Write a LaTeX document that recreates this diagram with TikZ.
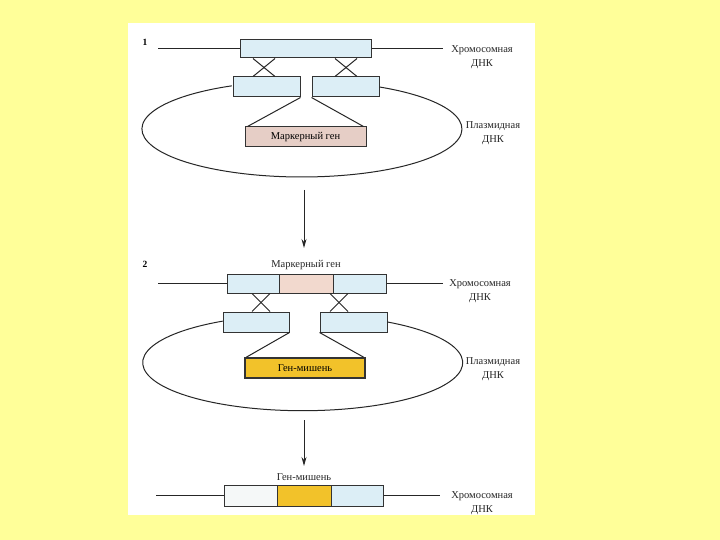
\documentclass[tikz,border=0pt]{standalone}
\usepackage{fontspec}
\setmainfont{Liberation Serif}
\usepackage{tikz}
\usetikzlibrary{arrows.meta}
\definecolor{bgyellow}{HTML}{FFFF99}
\definecolor{dnablue}{HTML}{DCEEF6}
\definecolor{markerpink}{HTML}{E6CEC6}
\definecolor{markerpale}{HTML}{F2D9CE}
\definecolor{targetgold}{HTML}{F2C22A}
\definecolor{palebox}{HTML}{F5F8F8}

\begin{document}
\begin{tikzpicture}[x=1pt,y=-1pt,
    dnabox/.style={draw=black!80, fill=dnablue, line width=1pt, rectangle, inner sep=0pt},
    genebox/.style={dnabox, fill=markerpink, font=\fontsize{10.5}{11}\selectfont},
    targetbox/.style={dnabox, fill=targetgold, line width=1.5pt, font=\fontsize{10.5}{11}\selectfont},
    lbl/.style={align=center, text=black!85, font=\fontsize{10.5}{14}\selectfont},
    num/.style={font=\fontsize{9.5}{10}\selectfont\bfseries},
    strand/.style={black!85, line width=1pt},
    flow/.style={strand, -{Stealth[length=9pt, width=5pt]}}]
               \useasboundingbox (0,0) rectangle (720,540);
               \fill[bgyellow] (0,0) rectangle (720,540);
               \fill[white] (128,23) rectangle (535,515);
               % panel 1
               \node[num] (n1) at (145,42) {1};
               \coordinate (chA1) at (158,49);
               \coordinate (chA2) at (443,49);
               \node[dnabox, minimum width=131pt, minimum height=18pt] (chA) at (305.5,49) {};
               \draw[strand] (chA1) -- (chA.west);
               \draw[strand] (chA.east) -- (chA2);
               \node[dnabox, minimum width=67pt, minimum height=20pt] (plA) at (266.5,87) {};
               \node[dnabox, minimum width=67pt, minimum height=20pt] (prA) at (345.5,87) {};
               \draw[strand] (253,0 |- chA.south) -- (275,0 |- plA.north);
               \draw[strand] (275,0 |- chA.south) -- (253,0 |- plA.north);
               \draw[strand] (335,0 |- chA.south) -- (357,0 |- prA.north);
               \draw[strand] (357,0 |- chA.south) -- (335,0 |- prA.north);
               \node[genebox, minimum width=121pt, minimum height=20pt] (mkA) at (305.5,137) {Маркерный ген};
               \draw[strand] (plA.south east) -- ([xshift=3pt]mkA.north west);
               \draw[strand] (prA.south west) -- ([xshift=-3pt]mkA.north east);
               \draw[strand] (prA.east) arc[start angle=-61, end angle=244, x radius=160, y radius=48];
               \node[lbl] (chrA) at (482,57) {Хромосомная\\ДНК};
               \node[lbl] (plsA) at (493,133) {Плазмидная\\ДНК};
               % arrow 1
               \coordinate (arA1) at (304,190);
               \coordinate (arA2) at (304,248);
               \draw[flow] (arA1) -- (arA2);
               % panel 2
               \node[num] (n2) at (145,264) {2};
               \coordinate (chB1) at (158,283.5);
               \coordinate (chB2) at (443,283.5);
               \node[dnabox, minimum width=52pt, minimum height=19pt] (chBl) at (253,283.5) {};
               \node[dnabox, fill=markerpale, minimum width=54pt, minimum height=19pt] (chBm) at (306,283.5) {};
               \node[dnabox, minimum width=53pt, minimum height=19pt] (chBr) at (359.5,283.5) {};
               \node[lbl, above=0pt] (mkB) at (chBm.north) {Маркерный ген};
               \draw[strand] (chB1) -- (chBl.west);
               \draw[strand] (chBr.east) -- (chB2);
               \node[dnabox, minimum width=66pt, minimum height=20pt] (plB) at (256,322) {};
               \node[dnabox, minimum width=67pt, minimum height=20pt] (prB) at (353.5,322) {};
               \draw[strand] (252,0 |- chBl.south) -- (270,0 |- plB.north);
               \draw[strand] (270,0 |- chBl.south) -- (252,0 |- plB.north);
               \draw[strand] (330,0 |- chBr.south) -- (348,0 |- prB.north);
               \draw[strand] (348,0 |- chBr.south) -- (330,0 |- prB.north);
               \node[targetbox, minimum width=120pt, minimum height=20pt] (tgB) at (305,368) {Ген-мишень};
               \draw[strand] (plB.south east) -- ([xshift=2pt]tgB.north west);
               \draw[strand] (prB.south west) -- ([xshift=-2pt]tgB.north east);
               \draw[strand] (prB.east) arc[start angle=-58, end angle=240, x radius=160, y radius=48];
               \node[lbl] (chrB) at (480,291) {Хромосомная\\ДНК};
               \node[lbl] (plsB) at (493,369) {Плазмидная\\ДНК};
               % arrow 2
               \coordinate (arB1) at (304,420);
               \coordinate (arB2) at (304,466);
               \draw[flow] (arB1) -- (arB2);
               % panel 3
               \coordinate (chC1) at (156,495.5);
               \coordinate (chC2) at (440,495.5);
               \node[dnabox, fill=palebox, minimum width=53pt, minimum height=21pt] (chCl) at (250.5,495.5) {};
               \node[dnabox, fill=targetgold, minimum width=54pt, minimum height=21pt] (chCm) at (304,495.5) {};
               \node[dnabox, minimum width=52pt, minimum height=21pt] (chCr) at (357,495.5) {};
               \node[lbl, above=0pt] (tgC) at (chCm.north) {Ген-мишень};
               \draw[strand] (chC1) -- (chCl.west);
               \draw[strand] (chCr.east) -- (chC2);
               \node[lbl] (chrC) at (482,503) {Хромосомная\\ДНК};
           \end{tikzpicture}
\end{document}
